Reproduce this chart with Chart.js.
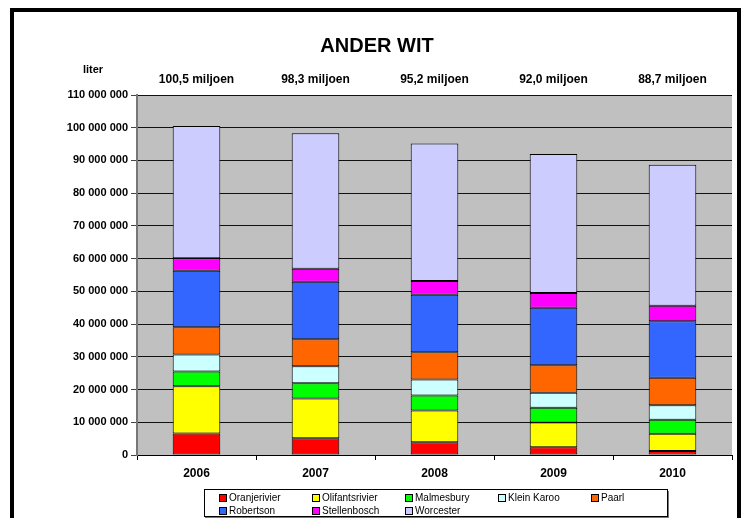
<!DOCTYPE html>
<html>
<head>
<meta charset="utf-8">
<script src="https://cdn.jsdelivr.net/npm/chart.js@4"></script>
<style>
  body { margin: 0; background: #fff; width: 749px; height: 518px; overflow: hidden; position: relative;
         font-family: "Liberation Sans", Arial, sans-serif; }
  #frame { position: absolute; left: 10px; top: 8px; width: 723px; height: 600px; border: 4px solid #000; }
  #chart { position: absolute; left: 0; top: 0; }
  #legend { position: absolute; left: 204px; top: 489px; width: 448px; height: 25px; padding: 1px 0 0 14px;
            border: 1px solid #000; background: #fff; box-shadow: 1px 2px 0 #777;
            display: grid; grid-template-columns: repeat(5, 93px); grid-auto-rows: 13px; font-size: 10px; color: #000; }
  #legend div { display: flex; align-items: center; white-space: nowrap; }
  #legend span.sw { display: inline-block; width: 6px; height: 6px; border: 1px solid #000; margin-right: 2px; }
</style>
</head>
<body>
<div id="frame"></div>
<canvas id="chart" width="749" height="518"></canvas>
<div id="legend"></div>
<script>
// jaren en totale volumes (liter)
var years = ['2006', '2007', '2008', '2009', '2010'];
var totalLabels = ['100,5 miljoen', '98,3 miljoen', '95,2 miljoen', '92,0 miljoen', '88,7 miljoen'];

var regions = ['Oranjerivier', 'Olifantsrivier', 'Malmesbury', 'Klein Karoo', 'Paarl', 'Robertson', 'Stellenbosch', 'Worcester'];
var colors = ['#FF0000', '#FFFF00', '#00FF00', '#CCFFFF', '#FF6600', '#3366FF', '#FF00FF', '#CCCCFF'];

var oranjerivier   = [6600000, 5100000, 3900000, 2400000, 1200000];
var olifantsrivier = [14400000, 12200000, 9700000, 7500000, 5300000];
var malmesbury     = [4500000, 4600000, 4600000, 4500000, 4300000];
var kleinKaroo     = [5200000, 5200000, 4900000, 4600000, 4400000];
var paarl          = [8300000, 8300000, 8300000, 8400000, 8400000];
var robertson      = [17300000, 17500000, 17600000, 17600000, 17300000];
var stellenbosch   = [3800000, 4000000, 4200000, 4500000, 4700000];
var worcester      = [40400000, 41400000, 42000000, 42500000, 43100000];

var series = [oranjerivier, olifantsrivier, malmesbury, kleinKaroo, paarl, robertson, stellenbosch, worcester];

Chart.defaults.font.family = '"Liberation Sans", Arial, sans-serif';
Chart.defaults.color = '#000';

function fmt(v) {
    return String(v).replace(/\B(?=(\d{3})+(?!\d))/g, ' ');
}

var extras = {
    id: 'extras',
    beforeDraw: function (chart) {
        var a = chart.chartArea, c = chart.ctx;
        c.save();
        c.fillStyle = '#C0C0C0';
        c.fillRect(a.left, a.top, a.right - a.left, a.bottom - a.top);
        c.restore();
    },
    afterDraw: function (chart) {
        var c = chart.ctx, x = chart.scales.x;
        c.save();
        c.fillStyle = '#000';
        c.textAlign = 'center';
        c.textBaseline = 'middle';
        c.font = 'bold 20px "Liberation Sans", Arial, sans-serif';
        c.fillText('ANDER WIT', 377, 46);
        c.font = 'bold 11px "Liberation Sans", Arial, sans-serif';
        c.fillText('liter', 93, 70);
        c.font = 'bold 12px "Liberation Sans", Arial, sans-serif';
        totalLabels.forEach(function (t, i) {
            c.fillText(t, x.getPixelForValue(i), 80);
        });
        c.restore();
    }
};

var ctx = document.getElementById('chart').getContext('2d');
var myChart = new Chart(ctx, {
    type: 'bar',
    data: {
        labels: years,
        datasets: regions.map(function (r, i) {
            return {
                label: r,
                data: series[i],
                backgroundColor: colors[i],
                borderColor: '#000',
                borderWidth: 1,
                borderSkipped: false,
                barPercentage: 0.40,
                categoryPercentage: 1.0
            };
        })
    },
    options: {
        responsive: false,
        animation: false,
        layout: { padding: { top: 95, left: 0, right: 17, bottom: 30 } },
        plugins: { legend: { display: false }, tooltip: { enabled: false } },
        scales: {
            x: {
                stacked: true,
                grid: { drawOnChartArea: false, drawTicks: true, tickLength: 5, color: '#000', offset: true },
                border: { color: '#000', width: 1 },
                ticks: { color: '#000', font: { weight: 'bold', size: 12 }, padding: 6 },
                afterFit: function (s) { s.height = 33; }
            },
            y: {
                stacked: true,
                min: 0,
                max: 110000000,
                ticks: { stepSize: 10000000, color: '#000', font: { weight: 'bold', size: 11 }, padding: 3,
                         callback: function (v) { return fmt(v); } },
                grid: { color: '#111', tickLength: 6, tickColor: '#444' },
                border: { color: '#777', width: 2 },
                afterFit: function (s) { s.width = 137; }
            }
        }
    },
    plugins: [extras]
});

// legenda in de volgorde van het origineel: rij 1 vijf items, rij 2 drie items
var legend = document.getElementById('legend');
regions.forEach(function (r, i) {
    var d = document.createElement('div');
    d.innerHTML = '<span class="sw" style="background:' + colors[i] + '"></span>' + r;
    legend.appendChild(d);
});
</script>
</body>
</html>
